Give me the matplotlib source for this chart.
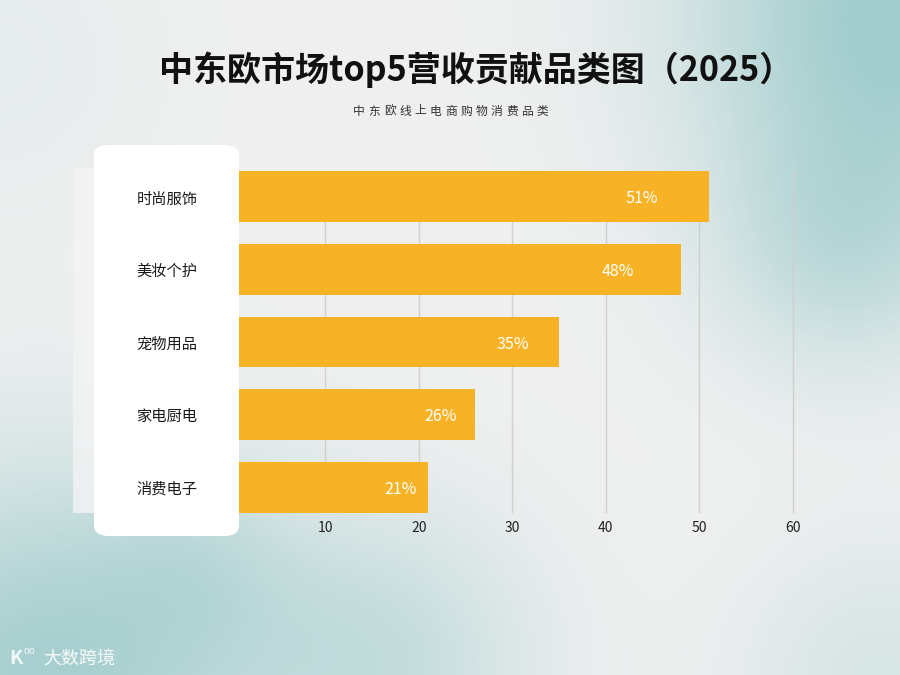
import numpy as np
import matplotlib
matplotlib.use("Agg")
import matplotlib.pyplot as plt
from matplotlib.patches import FancyBboxPatch, Rectangle

plt.rcParams['font.family'] = ['Noto Sans CJK SC', 'DejaVu Sans']

# data
categories = ["时尚服饰", "美妆个护", "宠物用品", "家电厨电", "消费电子"]
values = [51, 48, 35, 26, 21]
xticks = [10, 20, 30, 40, 50, 60]
title = "中东欧市场top5营收贡献品类图（2025）"
subtitle = "中东欧线上电商购物消费品类"

W, H = 900, 675
fig = plt.figure(figsize=(9, 6.75), dpi=100)

# soft teal background
bg = fig.add_axes([0, 0, 1, 1], zorder=-10)
yy, xx = np.mgrid[0:H, 0:W]
base = np.array([240, 240, 240]) / 255.0
teal = np.array([160, 204, 204]) / 255.0
blobs = [(900, 10, 150, 1.0), (840, 250, 90, 0.45), (40, 680, 150, 0.9),
         (380, 660, 110, 0.5), (200, 560, 70, 0.25), (880, 680, 100, 0.3),
         (0, 60, 110, 0.12)]
w = np.zeros((H, W))
for cx, cy, s, a in blobs:
    w += a * np.exp(-((xx - cx) ** 2 + (yy - cy) ** 2) / (2 * s ** 2))
w = np.clip(w, 0, 1)[..., None]
img = base * (1 - w) + teal * w
bg.imshow(img, extent=[0, W, H, 0], aspect='auto')
bg.set_xlim(0, W)
bg.set_ylim(H, 0)
bg.axis('off')

# light panel behind the label card
panel = Rectangle((73 / W, 1 - 513 / H), (236 - 73) / W, (513 - 168) / H,
                  transform=fig.transFigure, facecolor='#f4f4f4', edgecolor='none',
                  alpha=0.8, zorder=-5)
fig.add_artist(panel)

# main bar chart
ax = fig.add_axes([232 / W, 1 - 513 / H, 570 / W, 342 / H], zorder=1)
ax.patch.set_alpha(0)
y = np.arange(len(categories))
ax.barh(y, values, height=0.7, color='#F7B325', zorder=2)
ax.set_ylim(len(categories) - 0.65, -0.35)
ax.set_xlim(0, 61)
ax.set_xticks(xticks)
ax.set_xticklabels([str(t) for t in xticks])
ax.set_yticks([])
ax.grid(axis='x', color='#cfcfcf', linewidth=1)
ax.set_axisbelow(True)
ax.tick_params(axis='x', length=0, pad=6, labelsize=10, labelcolor='#222222')
for s in ax.spines.values():
    s.set_visible(False)
for yi, v in zip(y, values):
    ax.text(v * 0.86, yi + 0.03, f"{v}%", color='white', fontsize=11.5,
            fontweight='medium', ha='center', va='center', zorder=3)

# white label card on top
card = FancyBboxPatch((94 / W, 1 - 536 / H), 145 / W, 391 / H,
                      boxstyle="round,pad=0,rounding_size=0.016",
                      transform=fig.transFigure, facecolor='white',
                      edgecolor='none', zorder=5)
fig.add_artist(card)
row_px = [199, 271, 344, 416, 489]
for lab, py in zip(categories, row_px):
    fig.text(167 / W, 1 - py / H, lab, fontsize=11, color='#1a1a1a',
             ha='center', va='center', zorder=6)

# titles
fig.text(476 / W, 1 - 70 / H, title, fontsize=24.5, fontweight='bold',
         color='#111111', ha='center', va='center')
pitch = 15.3
x0 = 451 - pitch * (len(subtitle) - 1) / 2
for i, ch in enumerate(subtitle):
    fig.text((x0 + i * pitch) / W, 1 - 111 / H, ch, fontsize=8.5,
             color='#333333', ha='center', va='center')

# watermark
fig.text(9 / W, 1 - 659 / H, "K", fontsize=14, color='white', alpha=0.85,
         ha='left', va='center', fontweight='bold')
fig.text(23 / W, 1 - 651 / H, "oo", fontsize=7, color='white', alpha=0.85,
         ha='left', va='center')
fig.text(43 / W, 1 - 659 / H, "大数跨境", fontsize=13, color='white', alpha=0.9,
         ha='left', va='center')

fig.savefig("out.png", dpi=100)
